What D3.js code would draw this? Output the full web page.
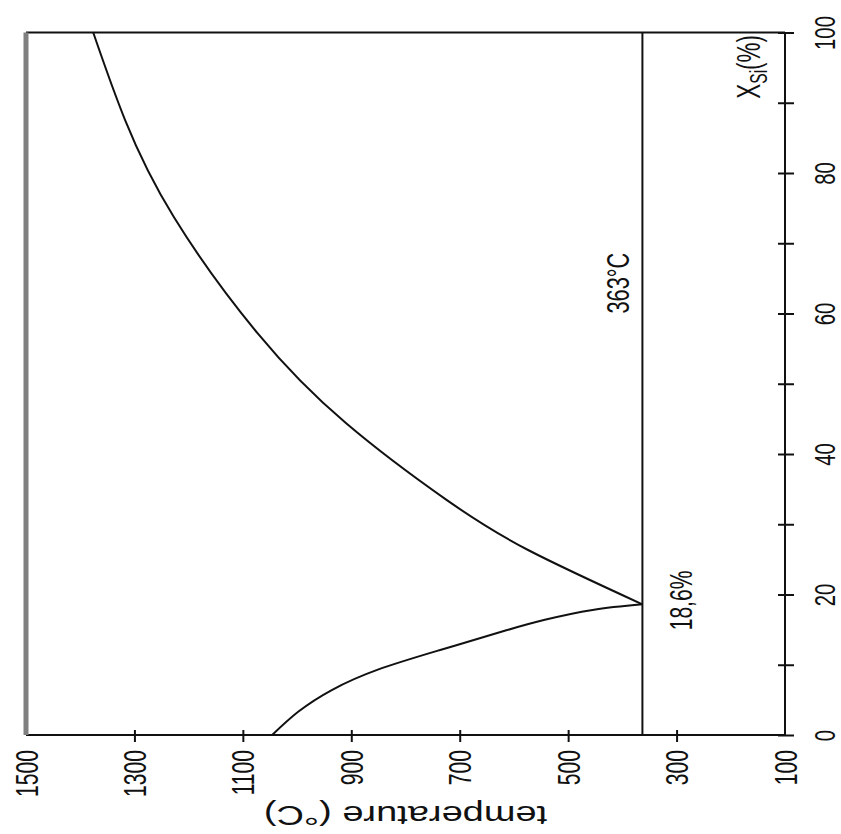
<!DOCTYPE html>
<html>
<head>
<meta charset="utf-8">
<script src="https://cdn.jsdelivr.net/npm/d3@7"></script>
<style>
  body { margin: 0; background: #fff; }
  svg { display: block; }
  text { font-family: "Liberation Sans", Arial, sans-serif; fill: #111; }
</style>
</head>
<body>
<svg id="chart" width="841" height="834"></svg>
<script>
// Au-Si phase diagram, drawn rotated (X_Si runs up the right side, T along the bottom)
const eutecticT = 363
const eutecticX = 18.6

// liquidus on the Si-rich side  [X_Si %, T °C]
const siLiquidus = [
  [100, 1376], [87.5, 1317], [73.7, 1227], [57.2, 1073],
  [44.4, 910], [33.5, 725], [26.3, 573], [18.6, 363]
]
// liquidus on the Au-rich side
const auLiquidus = [
  [0, 1046], [3.3, 998], [6.4, 936], [9.3, 851], [12.1, 736],
  [14.9, 614], [16.4, 543], [17.8, 455], [18.6, 363]
]

const xTicks = [0, 10, 20, 30, 40, 50, 60, 70, 80, 90, 100]
const tTicks = [1500, 1300, 1100, 900, 700, 500, 300, 100]

const svg = d3.select('#chart')
const xSi = d3.scaleLinear().domain([0, 100]).range([735, 32.5])   // vertical in picture
const temp = d3.scaleLinear().domain([1500, 100]).range([26, 785]) // horizontal in picture

const condense = 0.68
const fmt = d3.format('d')

// frame
const frame = svg.append('g')
frame.append('line')
  .attr('x1', temp(1500)).attr('x2', temp(100))
  .attr('y1', xSi(100)).attr('y2', xSi(100))
  .attr('stroke', '#111').attr('stroke-width', 2)
frame.append('line')
  .attr('x1', temp(1500)).attr('x2', temp(100))
  .attr('y1', xSi(0)).attr('y2', xSi(0))
  .attr('stroke', '#111').attr('stroke-width', 2)
frame.append('line')
  .attr('x1', temp(100)).attr('x2', temp(100))
  .attr('y1', xSi(0)).attr('y2', xSi(100))
  .attr('stroke', '#111').attr('stroke-width', 2)
frame.append('line')
  .attr('x1', temp(1500)).attr('x2', temp(1500))
  .attr('y1', xSi(0)).attr('y2', xSi(100))
  .attr('stroke', '#808080').attr('stroke-width', 5)

// eutectic isotherm
svg.append('line')
  .attr('x1', temp(eutecticT)).attr('x2', temp(eutecticT))
  .attr('y1', xSi(0)).attr('y2', xSi(100))
  .attr('stroke', '#111').attr('stroke-width', 2)

// liquidus curves
const line = d3.line()
  .x(d => temp(d[1]))
  .y(d => xSi(d[0]))
  .curve(d3.curveNatural)

svg.selectAll('path.liq')
  .data([siLiquidus, auLiquidus])
  .enter()
  .append('path')
  .attr('class', 'liq')
  .attr('d', line)
  .attr('fill', 'none')
  .attr('stroke', '#111')
  .attr('stroke-width', 2)

// right axis: X_Si
const rightAxis = svg.append('g')
  .attr('transform', `translate(${temp(100)},0)`)
  .call(d3.axisRight(xSi).tickValues(xTicks).tickSize(9)
    .tickFormat(d => d % 20 === 0 ? fmt(d) : ''))
rightAxis.select('.domain').remove()
rightAxis.selectAll('.tick line')
  .attr('x1', -7).attr('stroke', '#111').attr('stroke-width', 2)
rightAxis.selectAll('.tick text')
  .attr('x', null).attr('dy', null)
  .attr('text-anchor', 'middle')
  .attr('transform', `translate(50,0) rotate(-90) scale(${condense},1)`)
  .style('font-size', '30px')
  .style('font-family', '"Liberation Sans", Arial, sans-serif')

// bottom axis: temperature
const bottomAxis = svg.append('g')
  .attr('transform', `translate(0,${xSi(0)})`)
  .call(d3.axisBottom(temp).tickValues(tTicks).tickSize(7).tickFormat(fmt))
bottomAxis.select('.domain').remove()
bottomAxis.selectAll('.tick line')
  .attr('y1', -5).attr('stroke', '#111').attr('stroke-width', 2)
  .filter(d => d === 1500 || d === 100).remove()
bottomAxis.selectAll('.tick text')
  .attr('y', null).attr('dy', null)
  .attr('text-anchor', 'end')
  .attr('transform', `translate(11,15) rotate(-90) scale(${condense},1)`)
  .style('font-size', '31px')
  .style('font-family', '"Liberation Sans", Arial, sans-serif')

// axis titles
svg.append('text')
  .attr('text-anchor', 'middle')
  .attr('transform', `translate(${(temp(1500) + temp(100)) / 2},806) rotate(180) scale(1,0.75)`)
  .style('font-size', '38px')
  .text('temperature (°C)')

const xLabel = svg.append('text')
  .attr('text-anchor', 'end')
  .attr('transform', `translate(760,35) rotate(-90) scale(${condense},1)`)
  .style('font-size', '33px')
xLabel.append('tspan').text('X')
xLabel.append('tspan').attr('dy', 7).style('font-size', '23px').text('Si')
xLabel.append('tspan').attr('dy', -7).text('(%)')

// annotations
svg.append('text')
  .attr('text-anchor', 'start')
  .attr('transform', `translate(${temp(eutecticT) - 13},${xSi(60)}) rotate(-90) scale(${condense},1)`)
  .style('font-size', '32px')
  .text('363°C')

svg.append('text')
  .attr('text-anchor', 'start')
  .attr('transform', `translate(${temp(eutecticT) + 50},${xSi(eutecticX) + 26}) rotate(-90) scale(${condense},1)`)
  .style('font-size', '31px')
  .text('18,6%')
</script>
</body>
</html>
